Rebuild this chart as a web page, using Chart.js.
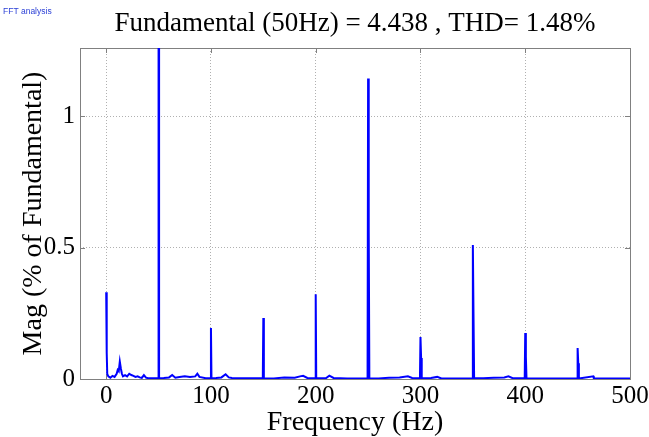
<!DOCTYPE html>
<html>
<head>
<meta charset="utf-8">
<script src="https://cdn.jsdelivr.net/npm/chart.js@4/dist/chart.umd.min.js"></script>
<style>
html,body{margin:0;padding:0;background:#fff;}
#wrap{position:relative;width:649px;height:437px;}
</style>
</head>
<body>
<div id="wrap"><canvas id="c" width="649" height="437"></canvas></div>
<script>
// ---- data ----
const titleText = "Fundamental (50Hz) = 4.438 , THD= 1.48%";
const cornerText = "FFT analysis";
const xLabel = "Frequency (Hz)";
const yLabel = "Mag (% of Fundamental)";
const xTicks = [0, 100, 200, 300, 400, 500];
const yTicks = [0, 0.5, 1];
const freq = [0, 0.5, 1, 2, 4, 6, 8, 10, 11, 12, 13, 14, 15, 16, 18, 20, 22, 24, 26, 28, 30, 32, 34, 36, 38, 40, 45, 49.5,
  50, 50.5, 55, 60, 63, 66, 70, 75, 80, 85, 87, 89, 95, 99.5,
  100, 100.5, 105, 110, 114, 117, 120, 130, 149.5,
  150, 150.5, 160, 170, 180, 185, 188, 192, 199.5,
  200, 200.5, 210, 213, 217, 230, 249.5,
  250, 250.6, 251.2, 260, 270, 280, 288, 292, 299.5,
  300, 300.6, 301.2, 310, 316, 320, 349.5,
  350, 350.6, 351.2, 360, 370, 380, 384, 388, 399.5,
  400, 400.6, 401.2, 420, 449.5,
  450, 450.6, 451.2, 465, 465.5, 500];
const mag = [0.33, 0.10, 0.02, 0.01, 0.005, 0.012, 0.008, 0.02, 0.035, 0.03, 0.066, 0.04, 0.02, 0.01, 0.015, 0.01, 0.02, 0.015, 0.012, 0.008, 0.01, 0.006, 0.004, 0.015, 0.005, 0.003, 0.003, 0.003,
  100, 0.003, 0.004, 0.006, 0.015, 0.005, 0.008, 0.01, 0.008, 0.01, 0.02, 0.008, 0.003, 0.003,
  0.194, 0.003, 0.004, 0.006, 0.018, 0.006, 0.004, 0.003, 0.003,
  0.232, 0.003, 0.002, 0.006, 0.005, 0.01, 0.012, 0.004, 0.003,
  0.323, 0.003, 0.004, 0.013, 0.004, 0.002, 0.003,
  1.144, 0.57, 0.003, 0.002, 0.005, 0.006, 0.01, 0.004, 0.003,
  0.16, 0.08, 0.003, 0.004, 0.008, 0.002, 0.003,
  0.51, 0.25, 0.003, 0.003, 0.005, 0.006, 0.01, 0.003, 0.003,
  0.175, 0.085, 0.003, 0.002, 0.002,
  0.118, 0.06, 0.002, 0.01, 0.002, 0.002];

const points = freq.map((f, i) => ({x: f, y: mag[i]}));

const framePlugin = {
  id: 'frame',
  beforeDatasetsDraw(chart) {
    const {ctx, chartArea: a, scales} = chart;
    ctx.save();
    ctx.strokeStyle = '#808080';
    ctx.lineWidth = 1;
    ctx.setLineDash([]);
    ctx.strokeRect(Math.round(a.left) + 0.5, Math.round(a.top) + 0.5, Math.round(a.right - a.left), Math.round(a.bottom - a.top));
    const L = 5;
    ctx.beginPath();
    xTicks.forEach(v => {
      const px = Math.round(scales.x.getPixelForValue(v)) + 0.5;
      ctx.moveTo(px, a.bottom); ctx.lineTo(px, a.bottom - L);
      ctx.moveTo(px, a.top); ctx.lineTo(px, a.top + L);
    });
    yTicks.forEach(v => {
      const py = Math.round(scales.y.getPixelForValue(v)) + 0.5;
      ctx.moveTo(a.left, py); ctx.lineTo(a.left + L, py);
      ctx.moveTo(a.right, py); ctx.lineTo(a.right - L, py);
    });
    ctx.stroke();
    ctx.restore();
  },
  afterDraw(chart) {
    const ctx = chart.ctx;
    ctx.save();
    ctx.font = '8.5px "Liberation Sans", Arial, sans-serif';
    ctx.fillStyle = '#2a3fd6';
    ctx.textBaseline = 'middle';
    ctx.textAlign = 'left';
    ctx.fillText(cornerText, 3, 12);
    ctx.restore();
  }
};

const serif = '"Liberation Serif", "Times New Roman", serif';

new Chart(document.getElementById('c'), {
  type: 'scatter',
  data: {
    datasets: [{
      data: points,
      showLine: true,
      borderColor: '#0000ff',
      backgroundColor: '#0000ff',
      borderWidth: 2,
      pointRadius: 0,
      tension: 0
    }]
  },
  options: {
    responsive: false,
    animation: false,
    devicePixelRatio: 1,
    layout: {padding: {left: 0, right: 0, top: 0, bottom: 0}},
    plugins: {
      legend: {display: false},
      tooltip: {enabled: false},
      title: {
        display: true,
        fullSize: false,
        text: titleText,
        color: '#000',
        font: {family: serif, size: 27, weight: 'normal', lineHeight: 1.2},
        padding: {top: 8, bottom: 7.6}
      }
    },
    scales: {
      x: {
        type: 'linear',
        min: -25,
        max: 500,
        afterBuildTicks: s => { s.ticks = xTicks.map(v => ({value: v})); },
        afterFit: s => { s.height = 58; s.paddingRight = 19; s.paddingLeft = 0; },
        ticks: {
          color: '#000',
          padding: 5,
          maxRotation: 0,
          font: {family: serif, size: 25, lineHeight: 1},
          callback: v => String(v)
        },
        grid: {
          color: ctx => (ctx.tick && (ctx.tick.value === 500) ? 'rgba(0,0,0,0)' : '#b0b0b0'),
          lineWidth: 1,
          drawTicks: false
        },
        border: {display: false, dash: [1, 2]},
        title: {
          display: true,
          text: xLabel,
          color: '#000',
          font: {family: serif, size: 28, lineHeight: 1},
          padding: {top: 1, bottom: 0}
        }
      },
      y: {
        type: 'linear',
        min: 0,
        max: 1.26,
        afterBuildTicks: s => { s.ticks = yTicks.map(v => ({value: v})); },
        afterFit: s => { s.width = 80; },
        ticks: {
          color: '#000',
          padding: 5,
          font: {family: serif, size: 25, lineHeight: 1},
          callback: v => String(v)
        },
        grid: {
          color: ctx => (ctx.tick && ctx.tick.value === 0 ? 'rgba(0,0,0,0)' : '#b0b0b0'),
          lineWidth: 1,
          drawTicks: false
        },
        border: {display: false, dash: [1, 2]},
        title: {
          display: true,
          text: yLabel,
          color: '#000',
          font: {family: serif, size: 28, lineHeight: 1},
          padding: {top: 20, bottom: 0}
        }
      }
    }
  },
  plugins: [framePlugin]
});
</script>
</body>
</html>
